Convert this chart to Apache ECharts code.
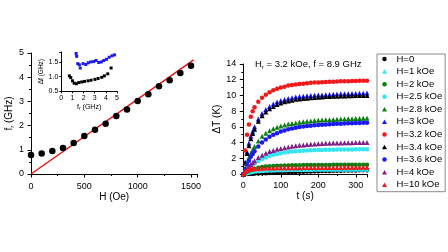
<!DOCTYPE html>
<html><head><meta charset="utf-8">
<script src="https://cdn.jsdelivr.net/npm/echarts@6/dist/echarts.min.js"></script>
<style>html,body{margin:0;padding:0;background:#fff}#c{width:448px;height:252px}</style>
</head><body><div id="c"></div>
<script>
// ---- Left main panel: resonance frequency vs field ----
const fieldH = [0,100,200,300,400,500,600,700,800,900,1000,1100,1200,1300,1400,1500];
const freqR  = [0.78,0.85,0.95,1.07,1.28,1.57,1.83,2.08,2.40,2.67,3.02,3.30,3.63,3.87,4.17,4.47];
const fitH = [0,1525];
const fitF = [0,4.72];
// ---- Inset: linewidth vs frequency ----
const insetBlackF  = [0.72,0.85,1.0,1.15,1.35,1.57,1.83,2.08,2.40,2.67,3.02,3.30,3.63,3.87,4.17,4.47];
const insetBlackDf = [1.03,0.97,0.86,0.78,0.76,0.80,0.82,0.84,0.86,0.88,0.91,0.94,0.98,1.03,1.10,1.30];
const insetBlueF   = [1.33,1.38,1.48,1.62,1.70,1.95,2.20,2.42,2.65,2.90,3.12,3.36,3.60,3.82,4.06,4.30,4.55,4.78];
const insetBlueDf  = [1.80,1.70,1.45,1.41,1.30,1.45,1.42,1.48,1.51,1.52,1.56,1.49,1.51,1.56,1.60,1.67,1.72,1.75];
// ---- Right panel: heating curves ----
const timeS = [0,5,10,15,20,25,30,40,50,60,70,80,90,100,110,120,130,140,150,160,170,180,190,200,210,220,230,240,250,260,270,280,290,300,310,320,330];
const dT_H0    = [0,0,0.01,0.02,0.03,0.04,0.05,0.07,0.09,0.11,0.13,0.15,0.17,0.19,0.21,0.23,0.25,0.27,0.29,0.30,0.32,0.33,0.35,0.36,0.37,0.38,0.39,0.40,0.41,0.42,0.43,0.44,0.45,0.46,0.47,0.47,0.48];
const dT_H1    = [0,0.10,0.18,0.25,0.30,0.34,0.37,0.42,0.46,0.49,0.51,0.52,0.53,0.54,0.55,0.56,0.56,0.57,0.57,0.58,0.58,0.58,0.59,0.59,0.59,0.60,0.60,0.60,0.60,0.61,0.61,0.61,0.61,0.62,0.62,0.62,0.62];
const dT_H2    = [0,0.15,0.30,0.42,0.52,0.60,0.68,0.80,0.88,0.94,0.98,1.01,1.04,1.06,1.08,1.09,1.10,1.11,1.12,1.13,1.13,1.14,1.14,1.15,1.15,1.16,1.16,1.17,1.17,1.17,1.18,1.18,1.18,1.18,1.19,1.19,1.19];
const dT_H25   = [0,0.25,0.50,0.75,0.95,1.15,1.35,1.65,1.90,2.10,2.30,2.45,2.55,2.65,2.73,2.80,2.85,2.90,2.94,2.97,3.00,3.02,3.04,3.06,3.07,3.08,3.09,3.10,3.11,3.12,3.12,3.13,3.13,3.14,3.14,3.15,3.15];
const dT_H28   = [0,0.8,1.5,2.1,2.6,3.1,3.5,4.2,4.8,5.2,5.5,5.75,5.95,6.1,6.23,6.35,6.43,6.5,6.58,6.65,6.7,6.75,6.8,6.85,6.87,6.9,6.92,6.95,6.97,7.0,7.01,7.02,7.03,7.05,7.07,7.08,7.1];
const dT_H3    = [0,1.5,2.8,3.9,4.8,5.45,6.0,7.0,7.7,8.2,8.6,8.9,9.15,9.35,9.48,9.6,9.7,9.8,9.85,9.9,9.95,10.0,10.02,10.05,10.07,10.1,10.12,10.15,10.17,10.2,10.21,10.22,10.23,10.25,10.27,10.28,10.3];
const dT_H32   = [0,3.0,5.0,6.3,7.3,8.0,8.5,9.2,9.7,10.1,10.4,10.65,10.85,11.0,11.12,11.25,11.33,11.4,11.46,11.5,11.55,11.6,11.63,11.66,11.69,11.71,11.73,11.75,11.77,11.79,11.8,11.82,11.83,11.85,11.86,11.87,11.88];
const dT_H34   = [0,1.4,2.6,3.6,4.5,5.15,5.7,6.7,7.4,7.9,8.3,8.6,8.85,9.05,9.18,9.3,9.4,9.5,9.55,9.6,9.65,9.7,9.74,9.78,9.81,9.85,9.87,9.9,9.91,9.93,9.94,9.95,9.96,9.98,9.99,10.0,10.0];
const dT_H36   = [0,0.6,1.2,1.7,2.2,2.55,2.9,3.5,4.0,4.4,4.75,5.0,5.2,5.4,5.55,5.7,5.8,5.9,5.98,6.05,6.1,6.15,6.2,6.25,6.27,6.3,6.33,6.35,6.38,6.4,6.42,6.45,6.46,6.48,6.5,6.51,6.52];
const dT_H4    = [0,0.35,0.65,0.95,1.2,1.45,1.7,2.1,2.4,2.65,2.85,3.0,3.15,3.25,3.35,3.45,3.53,3.6,3.65,3.7,3.74,3.78,3.82,3.85,3.87,3.9,3.92,3.93,3.95,3.96,3.97,3.98,3.99,4.0,4.01,4.01,4.02];
const dT_H10   = [0,0.35,0.5,0.58,0.63,0.66,0.68,0.71,0.73,0.75,0.76,0.77,0.78,0.79,0.79,0.8,0.8,0.81,0.81,0.82,0.82,0.82,0.83,0.83,0.83,0.83,0.84,0.84,0.84,0.84,0.85,0.85,0.85,0.85,0.86,0.86,0.86];
const seriesNames = ['H=0','H=1 kOe','H=2 kOe','H=2.5 kOe','H=2.8 kOe','H=3 kOe','H=3.2 kOe','H=3.4 kOe','H=3.6 kOe','H=4 kOe','H=10 kOe'];
const seriesVals  = [dT_H0,dT_H1,dT_H2,dT_H25,dT_H28,dT_H3,dT_H32,dT_H34,dT_H36,dT_H4,dT_H10];
const seriesSym   = ['circle','triangle','circle','circle','triangle','triangle','circle','triangle','circle','triangle','triangle'];
const seriesCol   = ['#000000','#35e4f0','#0e7d12','#35e4f0','#0e7d12','#1a1af0','#f01818','#000000','#1a1af0','#7f2085','#f01818'];
const xTicksLeft = [0,500,1000,1500];
const xTicksRight = [0,100,200,300];

const FONT = 'Liberation Sans, Arial, sans-serif';
const TRI_PATH = 'path://M5,0 L10,9 L0,9 Z';
const axisBase = {
  axisLine:{show:true,lineStyle:{color:'#000',width:1}},
  axisTick:{show:true,inside:false,length:3.5,lineStyle:{color:'#000'}},
  minorTick:{show:true,splitNumber:2,length:2,lineStyle:{color:'#000'}},
  splitLine:{show:false},
  axisLabel:{color:'#000',fontFamily:FONT,fontSize:9}
};
function ax(extra){ return Object.assign({}, JSON.parse(JSON.stringify(axisBase)), extra); }

const chart = echarts.init(document.getElementById('c'), null, {renderer:'canvas'});
const series = [];
series.push({type:'line',xAxisIndex:0,yAxisIndex:0,data:fitH.map((h,i)=>[h,fitF[i]]),symbol:'none',lineStyle:{color:'#ee1111',width:1.5},z:2,silent:true});
series.push({type:'scatter',xAxisIndex:0,yAxisIndex:0,data:fieldH.map((h,i)=>[h,freqR[i]]),symbol:'circle',symbolSize:6.5,itemStyle:{color:'#000',opacity:1},z:3});
series.push({type:'scatter',xAxisIndex:1,yAxisIndex:1,data:insetBlackF.map((f,i)=>[f,insetBlackDf[i]]),symbol:'rect',symbolSize:3,itemStyle:{color:'#000',opacity:1}});
series.push({type:'scatter',xAxisIndex:1,yAxisIndex:1,data:insetBlueF.map((f,i)=>[f,insetBlueDf[i]]),symbol:'rect',symbolSize:3,itemStyle:{color:'#1a1af0',opacity:1}});
seriesNames.forEach((n,k)=>{
  series.push({type:'scatter',name:n,xAxisIndex:2,yAxisIndex:2,
    data:timeS.map((t,i)=>[t,seriesVals[k][i]]),
    symbol:seriesSym[k],symbolSize:seriesSym[k]==='circle'?4.5:5,
    itemStyle:{color:seriesCol[k],opacity:1}});
});

chart.setOption({
  animation:false,
  textStyle:{fontFamily:FONT},
  grid:[
    {left:31,top:53,width:166.4,height:121},
    {left:61.3,top:52,width:55.7,height:39.3},
    {left:243.3,top:64,width:123.7,height:110}
  ],
  xAxis:[
    ax({gridIndex:0,type:'value',min:0,max:1560,interval:500,
      name:'H (Oe)',nameLocation:'middle',nameGap:17,nameTextStyle:{color:'#000',fontSize:10,fontFamily:FONT},
      axisLabel:{color:'#000',fontFamily:FONT,fontSize:9,margin:8,formatter:v=>xTicksLeft.includes(v)?String(v):''}}),
    ax({gridIndex:1,type:'value',min:0,max:5,interval:1,
      name:'f{s|r} (GHz)',nameLocation:'middle',nameGap:11,
      nameTextStyle:{color:'#000',fontSize:7,fontFamily:FONT,rich:{s:{fontSize:5,verticalAlign:'bottom',padding:[4,0,0,0]}}},
      axisTick:{show:true,length:2,lineStyle:{color:'#000'}},minorTick:{show:false},
      axisLabel:{color:'#000',fontFamily:FONT,fontSize:7,margin:3}}),
    ax({gridIndex:2,type:'value',min:0,max:330,interval:100,
      name:'t (s)',nameLocation:'middle',nameGap:14,nameTextStyle:{color:'#000',fontSize:10,fontFamily:FONT},
      axisLabel:{color:'#000',fontFamily:FONT,fontSize:9,margin:7,formatter:v=>xTicksRight.includes(v)?String(v):''}})
  ],
  yAxis:[
    ax({gridIndex:0,type:'value',min:0,max:5,interval:1,
      name:'f{s|r} (GHz)',nameLocation:'middle',nameGap:16,nameRotate:90,
      nameTextStyle:{color:'#000',fontSize:10,fontFamily:FONT,rich:{s:{fontSize:6,verticalAlign:'bottom',padding:[5,0,0,0]}}},
      axisLabel:{color:'#000',fontFamily:FONT,fontSize:9,margin:7}}),
    ax({gridIndex:1,type:'value',min:0.5,max:1.85,interval:0.5,
      name:'Δf (GHz)',nameLocation:'middle',nameGap:13,nameRotate:90,
      nameTextStyle:{color:'#000',fontSize:6.5,fontFamily:FONT},
      axisTick:{show:true,length:2,lineStyle:{color:'#000'}},minorTick:{show:false},
      axisLabel:{color:'#000',fontFamily:FONT,fontSize:7,margin:3,formatter:v=>[0.5,1,1.5].includes(v)?v.toFixed(1):''}}),
    ax({gridIndex:2,type:'value',min:0,max:14,interval:2,
      name:'ΔT (K)',nameLocation:'middle',nameGap:16,nameRotate:90,
      nameTextStyle:{color:'#000',fontSize:10,fontFamily:FONT},
      minorTick:{show:true,splitNumber:2,length:2,lineStyle:{color:'#000'}},
      axisLabel:{color:'#000',fontFamily:FONT,fontSize:9,margin:7}})
  ],
  title:{
    text:'H{s|r} = 3.2 kOe, f = 8.9 GHz',left:255,top:59,padding:0,
    textStyle:{color:'#000',fontSize:9.5,fontWeight:'normal',fontFamily:FONT,
      rich:{s:{fontSize:6,verticalAlign:'bottom',padding:[5,0,0,0],fontFamily:FONT,color:'#000'}}}
  },
  legend:{
    orient:'vertical',left:377,top:54,
    padding:[0,3,2,5],itemGap:2.57,itemWidth:14,itemHeight:4.5,symbolKeepAspect:true,
    borderColor:'#8a8a8a',borderWidth:1,borderRadius:0,
    textStyle:{color:'#000',fontFamily:FONT,fontSize:9.5,lineHeight:9},
    data:seriesNames.map((n,k)=>({name:n,icon:seriesSym[k]==='triangle'?TRI_PATH:'circle'})),
    selectedMode:false
  },
  series:series
});
</script></body></html>
